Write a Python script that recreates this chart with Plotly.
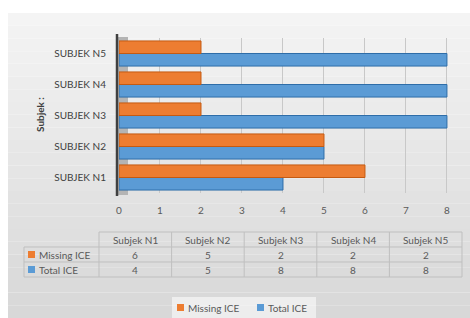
import plotly.graph_objects as go

categories = ["SUBJEK N1", "SUBJEK N2", "SUBJEK N3", "SUBJEK N4", "SUBJEK N5"]
table_headers = ["Subjek N1", "Subjek N2", "Subjek N3", "Subjek N4", "Subjek N5"]
series_names = ["Missing ICE", "Total ICE"]
missing_ice = [6, 5, 2, 2, 2]
total_ice = [4, 5, 8, 8, 8]
x_ticks = [0, 1, 2, 3, 4, 5, 6, 7, 8]

W, H = 470, 318
L, R, T, B = 119, 21, 38, 125
PW, PH = W - L - R, H - T - B


def px(x):
    return (x - L) / PW


def py(y):
    return (H - B - y) / PH


ORANGE, ORANGE_D = "#ED7D31", "#C55A11"
BLUE, BLUE_D = "#5B9BD5", "#2E6DA8"
TXT = "#595959"
GRID = "#c8c8c8"
FONT = "Lato"

fig = go.Figure()
fig.add_trace(go.Bar(y=categories, x=total_ice, orientation="h", name=series_names[1],
                     marker=dict(color=BLUE, line=dict(color=BLUE_D, width=1)),
                     showlegend=False))
fig.add_trace(go.Bar(y=categories, x=missing_ice, orientation="h", name=series_names[0],
                     marker=dict(color=ORANGE, line=dict(color=ORANGE_D, width=1)),
                     showlegend=False))

shapes = []
# gradient-like background of the chart area
top, bot = 13, 318
n = 24
c0, c1 = (244, 244, 244), (216, 216, 216)
for i in range(n):
    y0 = top + (bot - top) * i / n
    y1 = top + (bot - top) * (i + 1) / n
    t = i / (n - 1)
    c = tuple(int(c0[k] + (c1[k] - c0[k]) * t) for k in range(3))
    shapes.append(dict(type="rect", xref="paper", yref="paper", layer="below",
                       x0=px(8), x1=px(470), y0=py(y1), y1=py(y0),
                       fillcolor="rgb(%d,%d,%d)" % c, line=dict(width=0)))
# 3D side wall shading
shapes.append(dict(type="rect", xref="paper", yref="paper", layer="below",
                   x0=px(117), x1=px(128), y0=py(195), y1=py(37),
                   fillcolor="#b4b4b4", line=dict(width=0)))
# axis wall line
shapes.append(dict(type="line", xref="paper", yref="paper", layer="above",
                   x0=px(117), x1=px(117), y0=py(196), y1=py(34),
                   line=dict(color="#404040", width=2.5)))

# data table
col_edges = [99 + (462 - 99) * i / 5 for i in range(6)]
row_edges = [232, 247, 262, 277]
LC = "#bfbfbf"
shapes.append(dict(type="line", xref="paper", yref="paper", x0=px(99), x1=px(462),
                   y0=py(232), y1=py(232), line=dict(color=LC, width=1)))
for ry in row_edges[1:]:
    shapes.append(dict(type="line", xref="paper", yref="paper", x0=px(24), x1=px(462),
                       y0=py(ry), y1=py(ry), line=dict(color=LC, width=1)))
shapes.append(dict(type="line", xref="paper", yref="paper", x0=px(24), x1=px(24),
                   y0=py(247), y1=py(277), line=dict(color=LC, width=1)))
for cx in col_edges:
    shapes.append(dict(type="line", xref="paper", yref="paper", x0=px(cx), x1=px(cx),
                       y0=py(232), y1=py(277), line=dict(color=LC, width=1)))


def key(x, y, col):
    shapes.append(dict(type="rect", xref="paper", yref="paper",
                       x0=px(x), x1=px(x + 7), y0=py(y + 3.5), y1=py(y - 3.5),
                       fillcolor=col, line=dict(width=0)))


# legend keys in table
key(28, 254.5, ORANGE)
key(28, 269.5, BLUE)

# legend box below
shapes.append(dict(type="rect", xref="paper", yref="paper",
                   x0=px(172), x1=px(316), y0=py(318), y1=py(297),
                   fillcolor="rgba(255,255,255,0.55)", line=dict(width=0)))
key(177, 307.5, ORANGE)
key(257, 307.5, BLUE)

annotations = []


def note(text, x, y, xanchor="center", **kw):
    annotations.append(dict(text=text, x=px(x), y=py(y), xref="paper", yref="paper",
                            xanchor=xanchor, yanchor="middle", showarrow=False,
                            font=dict(size=10, color=TXT, family=FONT), **kw))


for i, h in enumerate(table_headers):
    cx = (col_edges[i] + col_edges[i + 1]) / 2
    note(h, cx, 239.5)
    note(str(missing_ice[i]), cx, 254.5)
    note(str(total_ice[i]), cx, 269.5)
note(series_names[0], 37, 254.5, xanchor="left")
note(series_names[1], 37, 269.5, xanchor="left")
note(series_names[0], 186, 307.5, xanchor="left")
note(series_names[1], 266, 307.5, xanchor="left")
note("<b>Subjek :</b>", 40, 115, textangle=-90)
annotations[-1]["font"]["color"] = "#404040"

fig.update_layout(
    width=W, height=H,
    margin=dict(l=L, r=R, t=T, b=B, autoexpand=False),
    paper_bgcolor="white",
    plot_bgcolor="rgba(0,0,0,0)",
    barmode="group", bargap=0.19, bargroupgap=0,
    font=dict(family=FONT, color=TXT, size=10),
    shapes=shapes,
    annotations=annotations,
    xaxis=dict(range=[0, 8.05], tickvals=x_ticks, showgrid=True, gridcolor=GRID,
               gridwidth=1, zeroline=False, showline=False, ticks="",
               tickfont=dict(size=10, color=TXT), side="bottom", ticklabelstandoff=10,
               automargin=False),
    yaxis=dict(showgrid=False, zeroline=False, showline=False, ticks="",
               tickfont=dict(size=10, color="#404040"), ticklabelstandoff=12,
               automargin=False),
    showlegend=False,
)

fig.write_html("out.html",
               config={"displayModeBar": False},
               post_script="document.body.style.margin='0';"
                           "document.body.style.overflow='hidden';")
